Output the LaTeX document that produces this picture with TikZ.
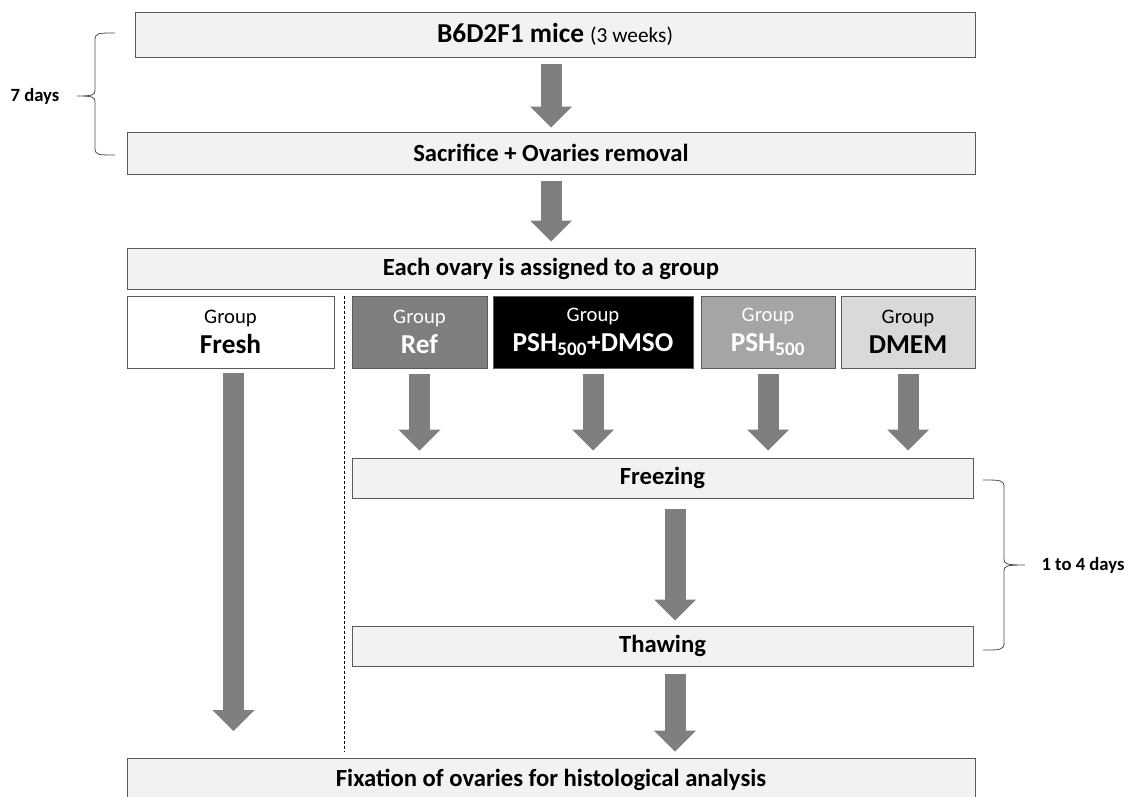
\documentclass[tikz,border=0pt]{standalone}
\usepackage{fontspec}
\setmainfont{Carlito}
\usepackage{tikz}
\usetikzlibrary{arrows.meta}

\newdimen\pxu \pxu=0.75pt
\newcommand\grpname{\bfseries\fontsize{20.5}{24}\selectfont}
\definecolor{boxfill}{HTML}{F2F2F2}
\definecolor{boxline}{HTML}{5A5A5A}
\definecolor{flowgray}{HTML}{7F7F7F}
\definecolor{refgray}{HTML}{7F7F7F}
\definecolor{pshgray}{HTML}{A5A5A5}
\definecolor{dmemgray}{HTML}{D9D9D9}

\tikzset{
    stepbox/.style={draw=boxline, fill=boxfill, line width=0.75pt, inner sep=0pt,
        font=\bfseries\fontsize{18.5}{22}\selectfont},
    groupbox/.style={draw=boxline, line width=0.75pt, inner sep=0pt, align=center,
        minimum height=54pt, font=\fontsize{15.5}{19}\selectfont},
    flow/.style={flowgray, line width=15.75pt,
        -{Triangle[width=31.5pt, length=15.75pt, line width=0pt]}},
    bracelabel/.style={font=\bfseries\fontsize{14}{16}\selectfont},
    bracket/.style={draw=black!70, line width=0.6pt},
}

\begin{document}
\begin{tikzpicture}[x=\pxu, y=-\pxu]
    \useasboundingbox (0,0) rectangle (1131,796);

    % steps
    \node[stepbox, minimum width=630pt, minimum height=33.75pt] (mice) at (555,34.5)
        {\fontsize{20.5}{22}\selectfont B6D2F1 mice \mdseries\fontsize{16}{18}\selectfont(3 weeks)};
    \node[stepbox, minimum width=636pt, minimum height=31.5pt] (sacrifice) at (551,153) {Sacrifice + Ovaries removal};
    \node[stepbox, minimum width=636pt, minimum height=30.75pt] (assign) at (551,268.5) {Each ovary is assigned to a group};

    % groups
    \node[groupbox, fill=white, minimum width=155.25pt] (fresh) at (230.5,332)
        {Group\\[3.5pt]{\grpname Fresh}};
    \node[groupbox, fill=refgray, text=white, minimum width=101.25pt] (ref) at (419.5,332)
        {Group\\[3.5pt]{\grpname Ref}};
    \node[groupbox, fill=black, text=white, minimum width=150pt] (dmso) at (593,332)
        {Group\\[3.5pt]{\grpname PSH\textsubscript{500}+DMSO}};
    \node[groupbox, fill=pshgray, text=white, minimum width=100.5pt] (psh) at (768,332)
        {Group\\[3.5pt]{\grpname PSH\textsubscript{500}}};
    \node[groupbox, fill=dmemgray, minimum width=100.5pt] (dmem) at (908,332)
        {Group\\[3.5pt]{\grpname DMEM}};

    \node[stepbox, minimum width=465.75pt, minimum height=30pt] (freeze) at (662.5,478) {Freezing};
    \node[stepbox, minimum width=465.75pt, minimum height=30pt] (thaw) at (662.5,646) {Thawing};
    \node[stepbox, minimum width=636pt, minimum height=33pt] (fix) at (551,780) {Fixation of ovaries for histological analysis};

    % arrows
    \coordinate (micetail) at (551,64);
    \draw[flow] (micetail) -- ([yshift=3pt]sacrifice.north);
    \draw[flow] ([yshift=-4.5pt]sacrifice.south) -- ([yshift=4.5pt]assign.north);
    \foreach \g in {ref,dmso,psh,dmem}{
        \coordinate (\g end) at (\g.south |- freeze.north);
        \draw[flow] ([yshift=-3.75pt]\g.south) -- ([yshift=5.25pt]\g end);
    }
    \coordinate (freshtail) at (233.5,373);
    \coordinate (freshend) at (233.5,731);
    \draw[flow] (freshtail) -- (freshend);
    \coordinate (freezetail) at (675,509);
    \coordinate (thawtail) at (675,674);
    \draw[flow] (freezetail) -- ([yshift=3.75pt]thaw.north -| freezetail);
    \draw[flow] (thawtail) -- ([yshift=4.5pt]fix.north -| thawtail);

    % divider
    \coordinate (divtop) at (344,296);
    \coordinate (divbot) at (344,752);
    \draw[line width=0.6pt, dash pattern=on 2.25pt off 1.5pt] (divtop) -- (divbot);

    % braces
    \draw[bracket] (115,33) .. controls (98,33) and (95,33) .. (95,40) -- (95,90)
        .. controls (95,95) and (93,96) .. (77,96)
        .. controls (93,96) and (95,97) .. (95,102) -- (95,148)
        .. controls (95,155) and (98,155) .. (115,155);
    \node[bracelabel] (week) at (35,96) {7 days};
    \draw[bracket] (983,480) .. controls (1000,480) and (1004,480) .. (1004,487) -- (1004,559)
        .. controls (1004,564) and (1006,565) .. (1025,565)
        .. controls (1006,565) and (1004,566) .. (1004,571) -- (1004,643)
        .. controls (1004,650) and (1000,650) .. (983,650);
    \node[bracelabel] (storage) at (1083,565) {1 to 4 days};
\end{tikzpicture}
\end{document}
